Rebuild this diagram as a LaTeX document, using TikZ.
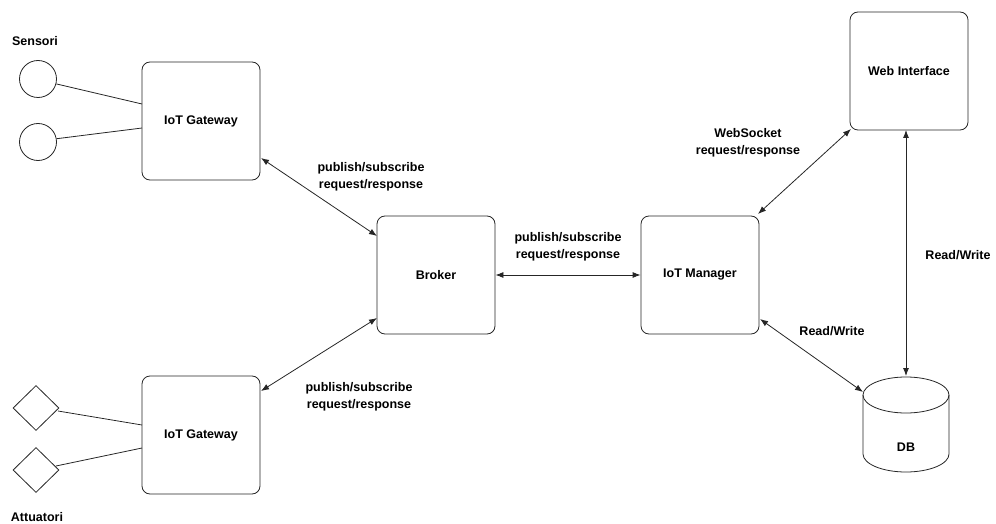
\documentclass[tikz,border=0pt]{standalone}
\usepackage{fontspec}
\setmainfont{Liberation Sans}
\usetikzlibrary{arrows.meta,shapes.geometric}
\begin{document}
\begin{tikzpicture}[x=1pt,y=-1pt,
  font=\fontsize{12.5}{17}\selectfont\bfseries,
  line width=0.8pt, draw=black!85,
  comp/.style={draw=black!85, rounded corners=8pt, minimum width=118pt, minimum height=118pt, inner sep=0pt},
  sensor/.style={draw=black!85, circle, minimum size=37pt, inner sep=0pt},
  actuator/.style={draw=black!85, diamond, minimum width=46pt, minimum height=45pt, inner sep=0pt},
  link/.style={draw=black!85, line width=0.8pt},
  biarrow/.style={draw=black!85, line width=0.8pt, {Latex[length=8pt,width=6pt]}-{Latex[length=8pt,width=6pt]}},
  lbl/.style={align=center, inner sep=0pt}]
\useasboundingbox (0,0) rectangle (996,524);

% components
\node[comp] (gw1) at (201,121) {IoT Gateway};
\node[comp] (gw2) at (201,435) {IoT Gateway};
\node[comp] (broker) at (436,275) {Broker};
\node[comp] (mgr) at (700,275) {IoT Manager};
\node[comp] (web) at (909,71) {Web Interface};

% database cylinder
\coordinate (dbtop) at (906,376);
\coordinate (dbleft) at (863,392);
\draw[draw=black!85, fill=white] (863,395) -- (863,454) arc[start angle=180, end angle=0, x radius=43, y radius=18] -- (949,395);
\draw[draw=black!85] (906,395) ellipse[x radius=43, y radius=18];
\node[inner sep=0pt] (db) at (906,447) {DB};

% sensors and actuators
\node[sensor] (s1) at (38,79) {};
\node[sensor] (s2) at (38,142) {};
\node[actuator] (a1) at (36,408) {};
\node[actuator] (a2) at (36,470) {};
\node[inner sep=0pt] (sensori) at (35,41) {Sensori};
\node[inner sep=0pt] (attuatori) at (37,517) {Attuatori};

% device links
\coordinate (g1a) at (142,104);
\coordinate (g1b) at (142,128);
\coordinate (g2a) at (142,425);
\coordinate (g2b) at (142,448);
\coordinate (a1e) at (58,411);
\coordinate (a2e) at (56,466);
\draw[link] (s1.-15) -- (g1a);
\draw[link] (s2.10) -- (g1b);
\draw[link] (a1e) -- (g2a);
\draw[link] (a2e) -- (g2b);

% message flows
\coordinate (gw1p) at (261,158);
\coordinate (brkA) at (377,236);
\coordinate (gw2p) at (261,391);
\coordinate (brkB) at (377,318);
\draw[biarrow] (gw1p) -- (brkA);
\draw[biarrow] (gw2p) -- (brkB);
\draw[biarrow] (broker.east) -- (mgr.west);
\coordinate (mgrTR) at (758,214);
\coordinate (webBL) at (851,129);
\draw[biarrow] (mgrTR) -- (webBL);
\draw[biarrow] (906,130) -- (dbtop);
\coordinate (mgrBR) at (760,319);
\draw[biarrow] (mgrBR) -- (dbleft);

% flow labels
\node[lbl] (l1) at (371,177) {publish/subscribe\\request/response};
\node[lbl] (l2) at (568,247) {publish/subscribe\\request/response};
\node[lbl] (l3) at (359,397) {publish/subscribe\\request/response};
\node[lbl] (l4) at (748,143) {WebSocket\\request/response};
\node[lbl] (l5) at (832,331) {Read/Write};
\node[lbl] (l6) at (958,255) {Read/Write};
\end{tikzpicture}
\end{document}
